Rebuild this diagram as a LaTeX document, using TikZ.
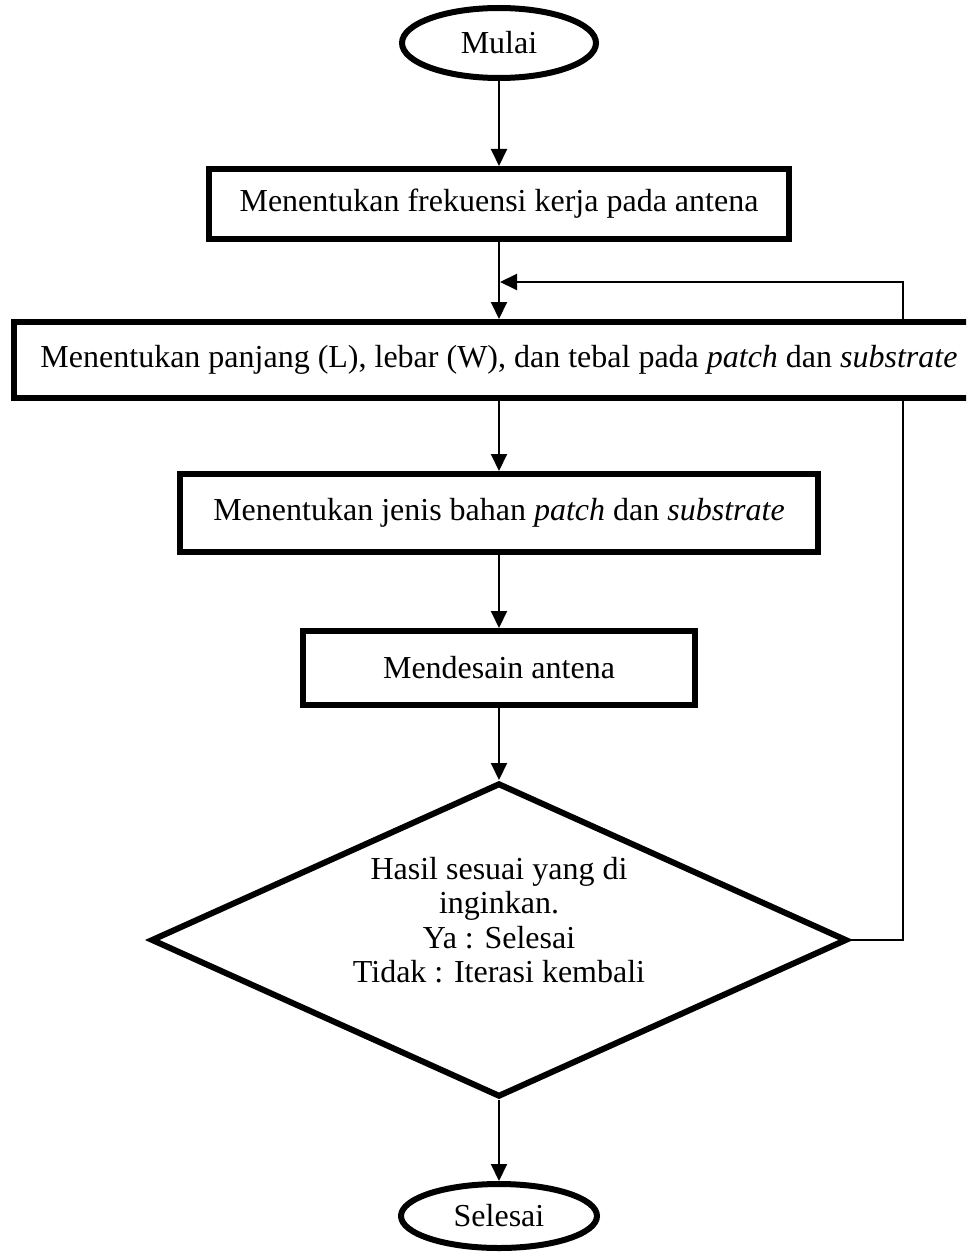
\documentclass[tikz,border=0pt]{standalone}
\usepackage{fontspec}
\setmainfont{Liberation Serif}
\usetikzlibrary{shapes.geometric,arrows.meta,backgrounds}
\begin{document}
\begin{tikzpicture}[x=1pt,y=-1pt,
  every node/.style={font=\fontsize{32}{34.5}\selectfont},
  terminal/.style={draw,ellipse,line width=6pt,inner sep=0pt},
  process/.style={draw,fill=white,rectangle,line width=6pt,inner sep=0pt},
  decision/.style={draw,diamond,line width=6pt,inner sep=0pt},
  flow/.style={line width=2pt,-{Triangle[length=17pt,width=16pt]}}]
\useasboundingbox (0,0) rectangle (966,1252);
\clip (0,0) rectangle (966,1252);

% start and end terminals
\node[terminal,minimum width=194pt,minimum height=70pt] (start) at (499,43) {Mulai};
\node[terminal,minimum width=196pt,minimum height=64pt] (stop) at (499,1216) {Selesai};

% process steps
\node[process,minimum width=580pt,minimum height=70pt] (freq) at (499,204)
  {Menentukan frekuensi kerja pada antena};
\node[process,minimum width=970pt,minimum height=76pt] (dim) at (499,360)
  {Menentukan panjang (L), lebar (W), dan tebal pada \textit{patch} dan \textit{substrate}};
\node[process,minimum width=638pt,minimum height=78pt] (mat) at (499,513)
  {Menentukan jenis bahan \textit{patch} dan \textit{substrate}};
\node[process,minimum width=392pt,minimum height=74pt] (design) at (499,668)
  {Mendesain antena};

% decision
\node[decision,minimum width=696pt,minimum height=314pt] (check) at (499,940) {};
\node[align=center] (checktext) at (499,920)
  {Hasil sesuai yang di\\inginkan.\\Ya : Selesai\\Tidak : Iterasi kembali};

% main flow
\draw[flow] (start) -- (freq);
\draw[flow] (freq) -- (dim);
\draw[flow] (dim) -- (mat);
\draw[flow] (mat) -- (design);
\draw[flow] (design) -- (check.north);
\draw[flow] (check.south) -- (stop);

% feedback loop, kept behind the boxes
\coordinate (join) at (500,282);
\coordinate (corner) at (903,940);
\begin{pgfonlayer}{background}
  \draw[flow] (check.east) -- (corner) |- (join);
\end{pgfonlayer}
\end{tikzpicture}
\end{document}
